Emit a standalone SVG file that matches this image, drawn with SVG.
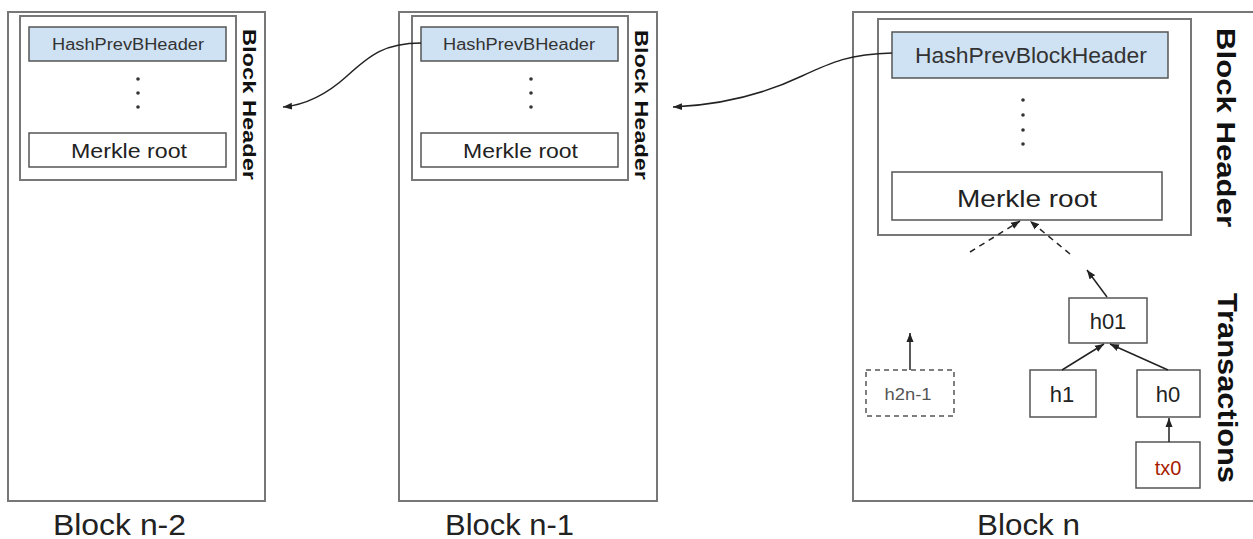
<svg xmlns="http://www.w3.org/2000/svg" width="1253" height="539" viewBox="0 0 1253 539">
  <style>
    .block { fill: #ffffff; stroke: #777777; stroke-width: 2; }
    .hdr { fill: #ffffff; stroke: #777777; stroke-width: 2; }
    .hash { fill: #cfe2f3; stroke: #555555; stroke-width: 1.5; }
    .box { fill: #ffffff; stroke: #555555; stroke-width: 1.5; }
    .dash { fill: #ffffff; stroke: #555555; stroke-width: 1.5; stroke-dasharray: 5 4; }
    .t { font-family: "Liberation Sans", Arial, sans-serif; fill: #222222; }
    .t.hashlbl { fill: #333333; }
    .t.tx { fill: #a61c00; }
    .t.ghost { fill: #555555; }
    .side { font-family: "Liberation Sans", Arial, sans-serif; font-weight: bold; fill: #111111; }
    .dot { fill: #333333; }
    .conn { fill: none; stroke: #222222; stroke-width: 1.5; }
    .conn-d { fill: none; stroke: #222222; stroke-width: 1.5; stroke-dasharray: 6 5; }
  </style>
  <defs>
    <marker id="arr" markerUnits="userSpaceOnUse" markerWidth="10" markerHeight="8" refX="9" refY="4" orient="auto">
      <path d="M0,0.5 L9,4 L0,7.5 Z" fill="#222222"/>
    </marker>
  </defs>

  <rect width="1253" height="539" fill="#ffffff"/>

  <!-- Block n-2 -->
  <g id="block-n-2">
    <rect class="block" x="8" y="12" width="257" height="489"/>
    <rect class="hdr" x="20" y="16" width="216" height="164"/>
    <rect class="hash" x="29" y="27" width="197" height="34"/>
    <text class="t hashlbl" x="52" y="49.5" font-size="16" textLength="152" lengthAdjust="spacingAndGlyphs">HashPrevBHeader</text>
    <circle class="dot" cx="138" cy="79" r="1.8"/>
    <circle class="dot" cx="138" cy="93" r="1.8"/>
    <circle class="dot" cx="138" cy="107" r="1.8"/>
    <rect class="box" x="29" y="133" width="197" height="34"/>
    <text class="t" x="71" y="158" font-size="20" textLength="116" lengthAdjust="spacingAndGlyphs">Merkle root</text>
    <text class="side" transform="translate(243,29) rotate(90)" font-size="19" textLength="151" lengthAdjust="spacingAndGlyphs">Block Header</text>
    <text class="t" x="53" y="535" font-size="30" textLength="133" lengthAdjust="spacingAndGlyphs">Block n-2</text>
  </g>

  <!-- Block n-1 -->
  <g id="block-n-1">
    <rect class="block" x="399" y="12" width="258" height="489"/>
    <rect class="hdr" x="412" y="16" width="216" height="164"/>
    <rect class="hash" x="421" y="27" width="197" height="34"/>
    <text class="t hashlbl" x="443" y="49.5" font-size="16" textLength="152" lengthAdjust="spacingAndGlyphs">HashPrevBHeader</text>
    <circle class="dot" cx="531" cy="79" r="1.8"/>
    <circle class="dot" cx="531" cy="93" r="1.8"/>
    <circle class="dot" cx="531" cy="107" r="1.8"/>
    <rect class="box" x="421" y="133" width="197" height="34"/>
    <text class="t" x="463" y="158" font-size="20" textLength="115" lengthAdjust="spacingAndGlyphs">Merkle root</text>
    <text class="side" transform="translate(635,30) rotate(90)" font-size="19" textLength="150" lengthAdjust="spacingAndGlyphs">Block Header</text>
    <text class="t" x="445" y="535" font-size="30" textLength="129" lengthAdjust="spacingAndGlyphs">Block n-1</text>
  </g>

  <!-- Block n -->
  <g id="block-n">
    <rect class="block" x="853" y="12" width="420" height="489"/>
    <rect class="hdr" x="878" y="19" width="313" height="216"/>
    <rect class="hash" x="892" y="32" width="276" height="46"/>
    <text class="t hashlbl" x="915" y="63" font-size="22" textLength="232" lengthAdjust="spacingAndGlyphs">HashPrevBlockHeader</text>
    <circle class="dot" cx="1023" cy="100" r="1.8"/>
    <circle class="dot" cx="1023" cy="115" r="1.8"/>
    <circle class="dot" cx="1023" cy="130" r="1.8"/>
    <circle class="dot" cx="1023" cy="144" r="1.8"/>
    <rect class="box" x="892" y="172" width="270" height="48"/>
    <text class="t" x="957" y="207" font-size="24" textLength="140" lengthAdjust="spacingAndGlyphs">Merkle root</text>
    <text class="side" transform="translate(1217,28) rotate(90)" font-size="25" textLength="199" lengthAdjust="spacingAndGlyphs">Block Header</text>
    <text class="side" transform="translate(1218,293) rotate(90)" font-size="27" textLength="190" lengthAdjust="spacingAndGlyphs">Transactions</text>
    <text class="t" x="977" y="535" font-size="30" textLength="103" lengthAdjust="spacingAndGlyphs">Block n</text>
  </g>

  <!-- Merkle tree nodes -->
  <g id="node-h01">
    <rect class="box" x="1069" y="298" width="78" height="45"/>
    <text class="t" x="1108" y="329" font-size="22" text-anchor="middle">h01</text>
  </g>
  <g id="node-h1">
    <rect class="box" x="1030" y="370" width="66" height="47"/>
    <text class="t" x="1062" y="402" font-size="22" text-anchor="middle">h1</text>
  </g>
  <g id="node-h0">
    <rect class="box" x="1137" y="370" width="63" height="47"/>
    <text class="t" x="1168" y="402" font-size="22" text-anchor="middle">h0</text>
  </g>
  <g id="node-tx0">
    <rect class="box" x="1136" y="442" width="64" height="46"/>
    <text class="t tx" x="1168" y="475" font-size="20" text-anchor="middle">tx0</text>
  </g>
  <g id="node-h2n-1">
    <rect class="dash" x="866" y="370" width="88" height="46"/>
    <text class="t ghost" x="908" y="400" font-size="16" text-anchor="middle" textLength="47" lengthAdjust="spacingAndGlyphs">h2n-1</text>
  </g>

  <!-- Connectors -->
  <g id="connectors">
    <path class="conn" d="M421,43 C385,43 370,55 347,76 C325,96 305,105 283,107" marker-end="url(#arr)"/>
    <path class="conn" d="M892,53 C850,54 832,62 802,76 C762,95 722,105 673,107" marker-end="url(#arr)"/>
    <path class="conn-d" d="M970,252 L1020,221" marker-end="url(#arr)"/>
    <path class="conn-d" d="M1070,254 L1030,221" marker-end="url(#arr)"/>
    <path class="conn" d="M1107,297 L1087,270" marker-end="url(#arr)"/>
    <path class="conn" d="M1062,370 L1104,344" marker-end="url(#arr)"/>
    <path class="conn" d="M1168,370 L1110,344" marker-end="url(#arr)"/>
    <path class="conn" d="M1169,442 L1169,418" marker-end="url(#arr)"/>
    <path class="conn" d="M910,370 L910,333" marker-end="url(#arr)"/>
  </g>
</svg>
